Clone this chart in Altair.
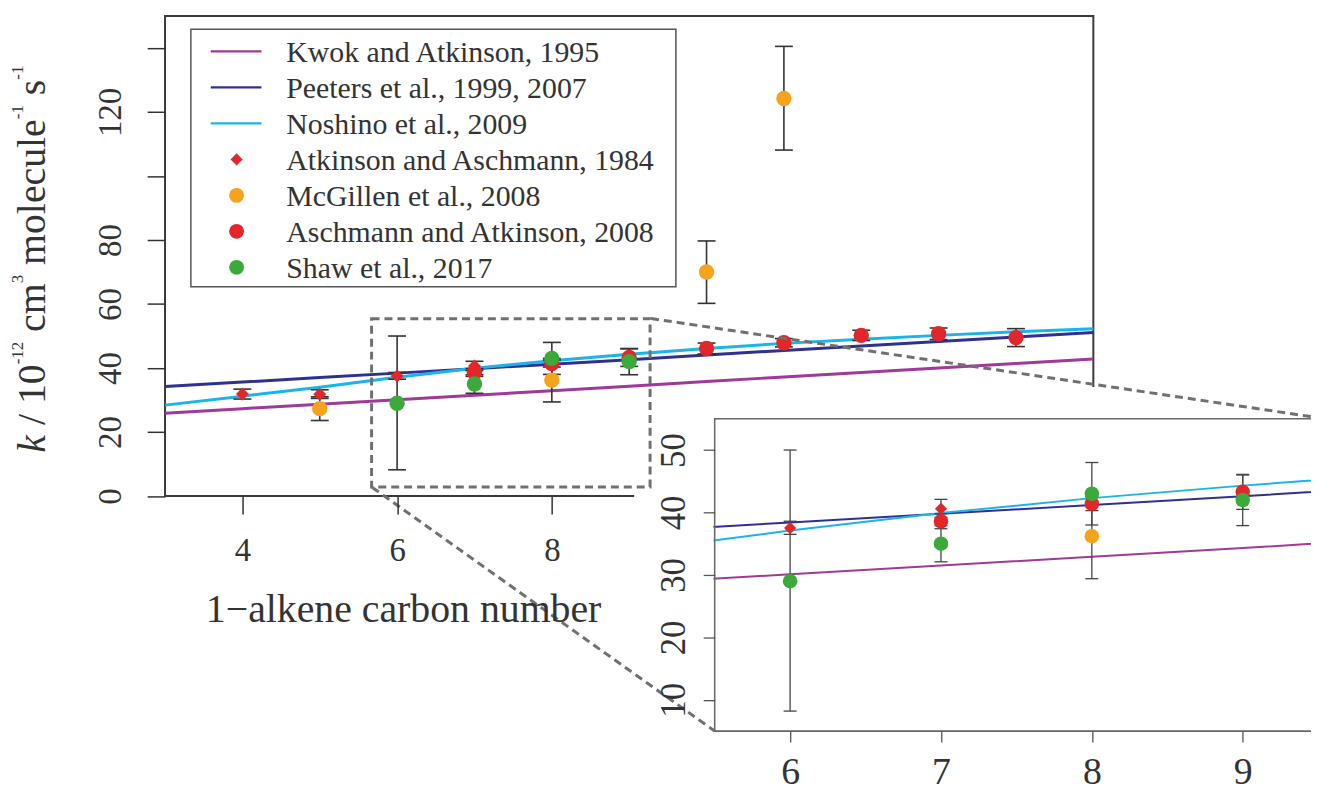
import altair as alt
import pandas as pd

FONT = "'Liberation Serif', 'Times New Roman', Times, 'DejaVu Serif', serif"
TXT = "#333333"

# ---------------- data ----------------
carbon = [3, 4, 5, 6, 7, 8, 9, 10, 11, 12, 13, 14, 15]
kwok = [25.9, 27.3, 28.7, 30.1, 31.5, 32.9, 34.3, 35.8, 37.2, 38.6, 40.0, 41.4, 42.8]
peeters = [34.2, 35.6, 37.0, 38.4, 39.8, 41.2, 42.6, 44.1, 45.5, 46.9, 48.3, 49.7, 51.1]
noshino = [28.4, 31.2, 34.0, 37.1, 39.9, 42.3, 44.3, 46.1, 47.7, 49.0, 50.2, 51.3, 52.3]

model_names = ["Kwok and Atkinson, 1995", "Peeters et al., 1999, 2007", "Noshino et al., 2009"]
model_colors = ["#A03A96", "#2E3192", "#1AB4EC"]

src_names = ["Atkinson and Aschmann, 1984", "McGillen et al., 2008",
             "Aschmann and Atkinson, 2008", "Shaw et al., 2017"]
src_colors = ["#E2262A", "#F5A21C", "#E2262A", "#3BAA3A"]
src_shapes = ["diamond", "circle", "circle", "circle"]

aa84_n = [4, 5, 6, 7]
aa84_k = [31.9, 31.8, 37.5, 40.6]
aa84_lo = [30.3, 30.5, 36.5, 39.2]
aa84_hi = [33.4, 33.2, 38.6, 42.1]

mcg_n = [5, 8, 10, 11]
mcg_k = [27.3, 36.2, 70.0, 124.2]
mcg_lo = [23.6, 29.4, 60.2, 108.1]
mcg_hi = [31.0, 43.0, 79.7, 140.5]

aa08_n = [7, 8, 9, 10, 11, 12, 13, 14]
aa08_k = [38.6, 41.4, 43.3, 46.1, 47.9, 50.2, 50.7, 49.5]
aa08_lo = [37.4, 40.3, 40.5, 44.4, 46.6, 48.6, 48.9, 46.7]
aa08_hi = [39.8, 42.5, 46.1, 47.8, 49.2, 51.8, 52.5, 52.3]

shaw_n = [6, 7, 8, 9]
shaw_k = [29.0, 35.0, 43.0, 42.0]
shaw_lo = [8.2, 32.1, 38.0, 37.9]
shaw_hi = [50.0, 37.9, 48.0, 46.0]

main_xticks = [4, 6, 8]
main_yticks = [0, 20, 40, 60, 80, 100, 120, 140]
inset_xticks = [6, 7, 8, 9]
inset_yticks = [10, 20, 30, 40, 50]

# ---------------- tables ----------------
line_rows = []
for name, vals in zip(model_names, [kwok, peeters, noshino]):
    for n, k in zip(carbon, vals):
        line_rows.append({"n": n, "k": k, "series": name})
lines_df = pd.DataFrame(line_rows)

pt_rows = []
for name, shp, ns, ks, los, his in zip(
        src_names, src_shapes,
        [aa84_n, mcg_n, aa08_n, shaw_n], [aa84_k, mcg_k, aa08_k, shaw_k],
        [aa84_lo, mcg_lo, aa08_lo, shaw_lo], [aa84_hi, mcg_hi, aa08_hi, shaw_hi]):
    for n, k, lo, hi in zip(ns, ks, los, his):
        pt_rows.append({"n": n, "k": k, "lo": lo, "hi": hi, "series": name, "shape": shp})
pts_df = pd.DataFrame(pt_rows)

one = pd.DataFrame({"a": [0]})

color_scale = alt.Scale(domain=model_names + src_names, range=model_colors + src_colors)
COL = alt.Color("series:N", scale=color_scale, legend=None)


def axis(**kw):
    base = dict(title=None, domain=False, grid=False, labelFont=FONT, labelColor=TXT,
                labelFlush=False, labelOverlap=False, zindex=1)
    base.update(kw)
    return alt.Axis(**base)


def group(xs, ys, xa, ya, lw, cap, csize, dsize, ecol, ew, lrange, prange,
          frame_vals, fcol, fw):
    def X(f):
        return alt.X(f, type="quantitative", scale=xs, axis=xa)

    def Y(f):
        return alt.Y(f, type="quantitative", scale=ys, axis=ya)

    frame = alt.Chart(pd.DataFrame([frame_vals])).mark_rect(
        fillOpacity=0, stroke=fcol, strokeWidth=fw).encode(
        x=X("x0"), x2="x1", y=Y("y0"), y2="y1")
    lines = alt.Chart(lines_df).transform_filter(
        alt.FieldRangePredicate(field="n", range=lrange)).mark_line(
        strokeWidth=lw).encode(x=X("n"), y=Y("k"), color=COL)
    pts = alt.Chart(pts_df).transform_filter(
        alt.FieldRangePredicate(field="n", range=prange))
    bars = pts.mark_rule(color=ecol, strokeWidth=ew).encode(
        x=X("n"), y=Y("lo"), y2="hi")
    caps = pts.transform_fold(["lo", "hi"], as_=["end", "v"]).mark_rule(
        color=ecol, strokeWidth=ew, xOffset=-cap, x2Offset=cap).encode(
        x=X("n"), x2="n", y=Y("v"))
    dia = pts.transform_filter(alt.datum.shape == "diamond").mark_point(
        filled=True, shape="diamond", size=dsize, opacity=1).encode(
        x=X("n"), y=Y("k"), color=COL)
    cir = pts.transform_filter(alt.datum.shape == "circle").mark_point(
        filled=True, shape="circle", size=csize, opacity=1).encode(
        x=X("n"), y=Y("k"), color=COL)
    return frame, alt.layer(lines, bars, caps, dia, cir)


# ---------------- main panel ----------------
main_x = alt.Scale(domain=[3, 15], range=[158, 1092], nice=False, zero=False)
main_y = alt.Scale(domain=[0, 150], range=[488.6, 5.6], nice=False, zero=False)
main_xa = axis(orient="bottom", offset=-300.4, values=main_xticks, tickSize=18,
               tickWidth=1.5, tickColor="#333333", labelFontSize=33, labelPadding=21)
main_ya = axis(orient="left", offset=-158, values=main_yticks, tickSize=18,
               tickWidth=1.5, tickColor="#333333", labelFontSize=33, labelPadding=27,
               labelAngle=270, labelAlign="center", labelBaseline="alphabetic",
               labelExpr="(datum.value == 100 || datum.value == 140) ? '' : datum.label")
main_frame, main_body = group(main_x, main_y, main_xa, main_ya, lw=3, cap=9,
                              csize=240, dsize=170, ecol="#333333", ew=1.6,
                              lrange=[3, 15], prange=[3, 15],
                              frame_vals={"x0": 3, "x1": 15, "y0": 0, "y1": 150},
                              fcol="#3a3a3a", fw=2)
main_group = alt.layer(main_frame, main_body)

cover = alt.Chart(one).mark_rect(fill="white").encode(
    x=alt.value(635), x2=alt.value(1311), y=alt.value(379), y2=alt.value(789))

# ---------------- inset panel ----------------
in_x = alt.Scale(domain=[5.5, 9.5], range=[711, 1318.2], nice=False, zero=False)
in_y = alt.Scale(domain=[5, 55], range=[725.1, 410.9], nice=False, zero=False)
in_xa = axis(orient="bottom", offset=-63.9, values=inset_xticks, tickSize=11,
             tickWidth=1.3, tickColor="#555555", labelFontSize=38, labelPadding=12)
in_ya = axis(orient="left", offset=-711, values=inset_yticks, tickSize=11.5,
             tickWidth=1.3, tickColor="#555555", labelFontSize=35, labelPadding=18.5,
             labelAngle=270, labelAlign="center", labelBaseline="alphabetic")
in_frame, in_body = group(in_x, in_y, in_xa, in_ya, lw=2, cap=6.5,
                          csize=215, dsize=150, ecol="#444444", ew=1.3,
                          lrange=[5, 10], prange=[5.5, 9.5],
                          frame_vals={"x0": 5.5, "x1": 9.5, "y0": 5, "y1": 55},
                          fcol="#666666", fw=1.6)
inset_group = alt.layer(in_body, in_frame)

overhang = alt.Chart(one).mark_rect(fill="white").encode(
    x=alt.value(630), x2=alt.value(709.8), y=alt.value(405), y2=alt.value(730))

# ---------------- zoom box and connectors ----------------
DCOL = "#707070"
box_x = alt.Scale(domain=[3, 15], range=[158, 1092], nice=False, zero=False)
box_y = alt.Scale(domain=[0, 150], range=[488.6, 5.6], nice=False, zero=False)
zoom_box = alt.Chart(pd.DataFrame([{"x0": 5.67, "x1": 9.27, "y0": 2.8, "y1": 55.4}])).mark_rect(
    fillOpacity=0, stroke=DCOL, strokeWidth=3, strokeDash=[8, 5]).encode(
    x=alt.X("x0:Q", scale=box_x, axis=None), x2="x1",
    y=alt.Y("y0:Q", scale=box_y, axis=None), y2="y1")
conn_top = alt.Chart(one).mark_rule(color=DCOL, strokeWidth=3, strokeDash=[8, 5]).encode(
    x=alt.value(647), y=alt.value(310), x2=alt.value(1311), y2=alt.value(408.7))
conn_bot = alt.Chart(one).mark_rule(color=DCOL, strokeWidth=3, strokeDash=[8, 5]).encode(
    x=alt.value(366.5), y=alt.value(480), x2=alt.value(711), y2=alt.value(725))

# ---------------- legend ----------------
leg_labels = model_names + src_names
leg_colors = model_colors + src_colors
leg_kinds = ["line", "line", "line"] + src_shapes
leg_rows = []
for i, (lab, col, kind) in enumerate(zip(leg_labels, leg_colors, leg_kinds)):
    yc = 41.3 + 36.2 * i
    leg_rows.append({"label": lab, "col": col, "kind": kind, "yc": yc, "yt": yc + 10.5,
                     "lx0": 204, "lx1": 255, "px": 230, "tx": 280})
leg_df = pd.DataFrame(leg_rows)
PX = lambda f: alt.X(f, type="quantitative", scale=None, axis=None)
PY = lambda f: alt.Y(f, type="quantitative", scale=None, axis=None)

leg_box = alt.Chart(one).mark_rect(fill="white", stroke="#555555", strokeWidth=1.5).encode(
    x=alt.value(184), x2=alt.value(672), y=alt.value(19), y2=alt.value(278))
leg_base = alt.Chart(leg_df)
leg_lines = leg_base.transform_filter(alt.datum.kind == "line").mark_rule(strokeWidth=2.2).encode(
    x=PX("lx0"), x2="lx1", y=PY("yc"), color=alt.Color("col:N", scale=None))
leg_dia = leg_base.transform_filter(alt.datum.kind == "diamond").mark_point(
    filled=True, shape="diamond", size=150, opacity=1).encode(
    x=PX("px"), y=PY("yc"), color=alt.Color("col:N", scale=None))
leg_cir = leg_base.transform_filter(alt.datum.kind == "circle").mark_point(
    filled=True, shape="circle", size=225, opacity=1).encode(
    x=PX("px"), y=PY("yc"), color=alt.Color("col:N", scale=None))
leg_text = leg_base.mark_text(font=FONT, fontSize=30, color=TXT, align="left",
                              baseline="alphabetic").encode(
    x=PX("tx"), y=PY("yt"), text="label:N")

# ---------------- axis titles ----------------
W = {"k": 0.444, "/": 0.278, "1": 0.5, "0": 0.5, "2": 0.5, "3": 0.5, "-": 0.333,
     "c": 0.444, "m": 0.778, "o": 0.5, "l": 0.278, "e": 0.444, "u": 0.5, "s": 0.389, " ": 0.25}
pieces = [("k", 40, "it"), (" ", 40, None), ("/", 40, "m"), (" ", 40, None), ("10", 40, "m"),
          ("-12", 17, "s"), (" ", 40, None), ("cm", 40, "m"), ("3", 17, "s"), (" ", 40, None),
          ("molecule", 40, "m"), ("-1", 17, "s"), (" ", 40, None), ("s", 40, "m"), ("-1", 17, "s")]
pos = 445.0
yt_rows = []
for txt, fs, kind in pieces:
    if kind is not None:
        yt_rows.append({"t": txt, "fs": fs, "kind": kind, "py": pos,
                        "px": 15 if kind == "s" else 37})
    pos -= sum(W[c] for c in txt) * fs
yt_df = pd.DataFrame(yt_rows)
yt_base = alt.Chart(yt_df)
yt_it = yt_base.transform_filter(alt.datum.kind == "it").mark_text(
    font=FONT, fontStyle="italic", angle=270, align="left", baseline="alphabetic",
    color=TXT).encode(x=PX("px"), y=PY("py"), text="t:N", size=alt.Size("fs:Q", scale=None))
yt_rest = yt_base.transform_filter(alt.datum.kind != "it").mark_text(
    font=FONT, angle=270, align="left", baseline="alphabetic",
    color=TXT).encode(x=PX("px"), y=PY("py"), text="t:N", size=alt.Size("fs:Q", scale=None))

xt = alt.Chart(pd.DataFrame([{"t": "1\u2212alkene carbon number", "px": 398, "py": 615}])).mark_text(
    font=FONT, fontSize=40, color=TXT, align="center", baseline="alphabetic").encode(
    x=PX("px"), y=PY("py"), text="t:N")

chart = alt.layer(
    main_group, cover, inset_group, overhang, zoom_box, conn_top, conn_bot,
    leg_box, leg_lines, leg_dia, leg_cir, leg_text, yt_it, yt_rest, xt
).resolve_scale(x="independent", y="independent").properties(
    width=1311, height=789, autosize=alt.AutoSizeParams(type="none"), padding=0,
    background="white"
).configure_view(stroke=None)

chart.save("out.html", embed_options={"renderer": "svg", "actions": False})
